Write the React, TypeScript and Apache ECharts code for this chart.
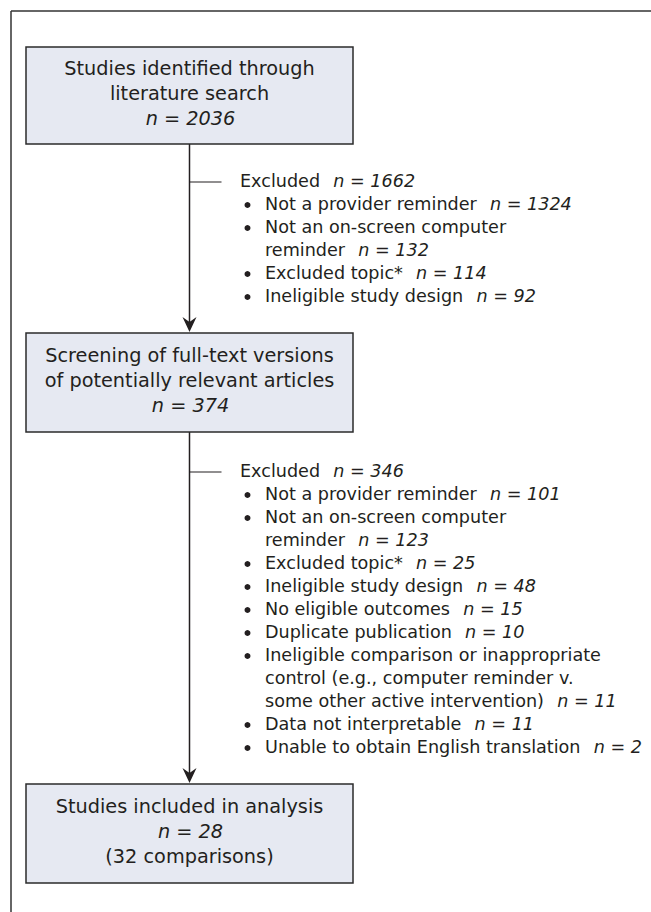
import React, { useEffect, useRef } from "react";
import * as echarts from "echarts";

// ---- data ----
const stageLabels = [
  "Studies identified through\nliterature search",
  "Screening of full-text versions\nof potentially relevant articles",
  "Studies included in analysis",
];
const stageCounts = [2036, 374, 28];
const stageNotes = ["", "", "(32 comparisons)"];

const excludedTotals = [1662, 346];
const reasons1 = [
  "Not a provider reminder",
  "Not an on-screen computer\nreminder",
  "Excluded topic*",
  "Ineligible study design",
];
const counts1 = [1324, 132, 114, 92];
const reasons2 = [
  "Not a provider reminder",
  "Not an on-screen computer\nreminder",
  "Excluded topic*",
  "Ineligible study design",
  "No eligible outcomes",
  "Duplicate publication",
  "Ineligible comparison or inappropriate\ncontrol (e.g., computer reminder v.\nsome other active intervention)",
  "Data not interpretable",
  "Unable to obtain English translation",
];
const counts2 = [101, 123, 25, 48, 15, 10, 11, 11, 2];

// ---- layout ----
const FONT = "DejaVu Sans";
const FS = 17.6;
const BFS = 19.3;
const INK = "#231f20";
const BOX_FILL = "#e6e9f2";
const BOX_X0 = 26;
const BOX_X1 = 353;
const BOX_Y = [
  [47, 144],
  [333, 432],
  [784, 883],
];
const LINE_X = 189.5;
const EXCL_Y = [181, 471];
const EXCL_LH = 23;
const BOX_LH = 24.6;

function richFor(fs: number) {
  return {
    r: { fontFamily: FONT, fontSize: fs, lineHeight: fs, fill: INK },
    i: { fontFamily: FONT, fontSize: fs, lineHeight: fs, fill: INK, fontStyle: "italic", padding: [0, 0, 0, 2] },
  };
}

function txt(x: number, y: number, text: string, align: string = "left", fs: number = FS) {
  return {
    type: "text",
    x,
    y,
    silent: true,
    style: {
      text,
      rich: richFor(fs),
      align,
      verticalAlign: "middle",
      fontFamily: FONT,
      fontSize: fs,
      lineHeight: fs,
      fill: INK,
    },
  };
}

function bullet(y: number) {
  return { type: "circle", shape: { cx: 247.5, cy: y + 1, r: 3 }, style: { fill: INK } };
}

function arrowHead(tipY: number) {
  return {
    type: "polygon",
    shape: {
      points: [
        [LINE_X, tipY],
        [LINE_X - 7, tipY - 15],
        [LINE_X, tipY - 10],
        [LINE_X + 7, tipY - 15],
      ],
    },
    style: { fill: INK },
  };
}

function buildGraphics() {
  const els: any[] = [];
  // outer frame (top & left only visible)
  els.push({ type: "line", shape: { x1: 11, y1: 11, x2: 651, y2: 11 }, style: { stroke: "#333333", lineWidth: 1.5 } });
  els.push({ type: "line", shape: { x1: 11, y1: 11, x2: 11, y2: 912 }, style: { stroke: "#333333", lineWidth: 1.5 } });

  // connectors
  els.push({ type: "line", shape: { x1: LINE_X, y1: BOX_Y[0][1], x2: LINE_X, y2: BOX_Y[1][0] - 6 }, style: { stroke: INK, lineWidth: 1.5 } });
  els.push(arrowHead(BOX_Y[1][0] - 1));
  els.push({ type: "line", shape: { x1: LINE_X, y1: BOX_Y[1][1], x2: LINE_X, y2: BOX_Y[2][0] - 6 }, style: { stroke: INK, lineWidth: 1.5 } });
  els.push(arrowHead(BOX_Y[2][0] - 1));

  // boxes
  stageLabels.forEach((label, k) => {
    const [y0, y1] = BOX_Y[k];
    els.push({
      type: "rect",
      shape: { x: BOX_X0, y: y0, width: BOX_X1 - BOX_X0, height: y1 - y0 },
      style: { fill: BOX_FILL, stroke: "#2b2b2b", lineWidth: 1.5 },
    });
    const lines = label.split("\n").map((s) => `{r|${s}}`);
    lines.push(`{i|n = ${stageCounts[k]}}`);
    if (stageNotes[k]) lines.push(`{r|${stageNotes[k]}}`);
    const cy = (y0 + y1) / 2 - 2;
    const start = cy - ((lines.length - 1) * BOX_LH) / 2;
    lines.forEach((ln, j) => els.push(txt((BOX_X0 + BOX_X1) / 2, start + j * BOX_LH, ln, "center", BFS)));
  });

  // exclusion lists
  const groups = [
    [reasons1, counts1],
    [reasons2, counts2],
  ] as [string[], number[]][];
  groups.forEach(([reasons, counts], g) => {
    const y0 = EXCL_Y[g];
    els.push({ type: "line", shape: { x1: LINE_X, y1: y0 + 1, x2: LINE_X + 32, y2: y0 + 1 }, style: { stroke: INK, lineWidth: 1.2 } });
    els.push(txt(240, y0, `{r|Excluded  }{i|n = ${excludedTotals[g]}}`));
    let row = 1;
    reasons.forEach((reason, k) => {
      const parts = reason.split("\n");
      els.push(bullet(y0 + row * EXCL_LH));
      parts.forEach((p, j) => {
        const last = j === parts.length - 1;
        const t = last ? `{r|${p}  }{i|n = ${counts[k]}}` : `{r|${p}}`;
        els.push(txt(265, y0 + row * EXCL_LH, t));
        row++;
      });
    });
  });
  return els;
}

export default function App() {
  const ref = useRef<HTMLDivElement>(null);
  useEffect(() => {
    document.body.style.margin = "0";
    const chart = echarts.init(ref.current!, null, { renderer: "svg" });
    chart.setOption({
      animation: false,
      backgroundColor: "#ffffff",
      graphic: { elements: buildGraphics() },
    });
    return () => chart.dispose();
  }, []);
  return <div ref={ref} style={{ width: 651, height: 912 }} />;
}
